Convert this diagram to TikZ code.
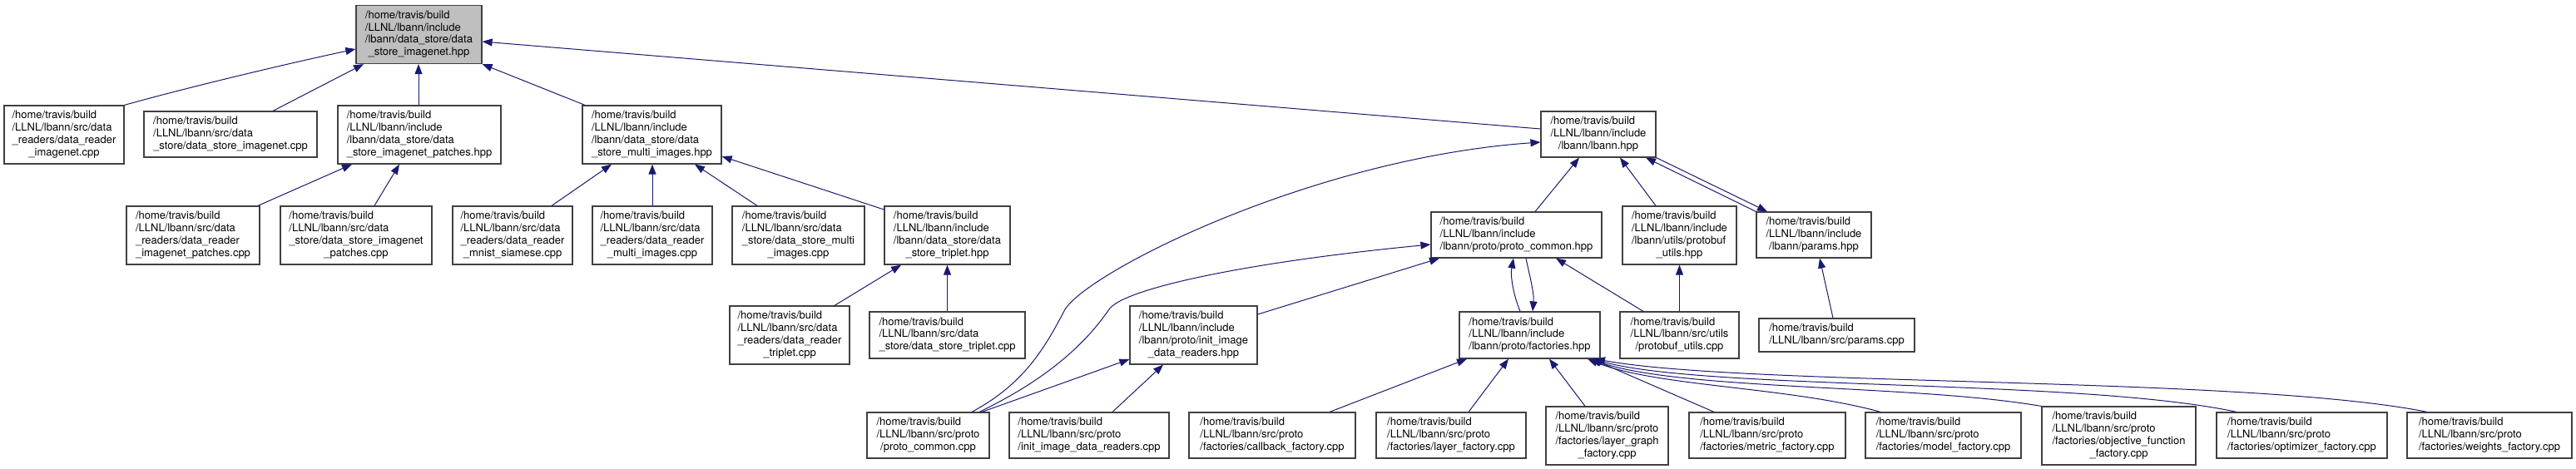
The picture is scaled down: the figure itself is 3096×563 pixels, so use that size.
\documentclass[tikz,border=0pt]{standalone}
\usepackage{fontspec}
\setmainfont{TeX Gyre Heros}
\usetikzlibrary{arrows.meta}
\definecolor{mblue}{RGB}{25,25,112}
\definecolor{bord}{RGB}{64,64,64}
\definecolor{rootfill}{RGB}{191,191,191}
\newcommand{\lbx}[2]{\begin{tabular}{@{}l@{}}#1\\\multicolumn{1}{@{}c@{}}{#2}\end{tabular}}
\newcommand{\HB}{/home/travis/build}
\newcommand{\LI}{/LLNL/lbann/include}
\newcommand{\LSD}{/LLNL/lbann/src/data}
\newcommand{\LSP}{/LLNL/lbann/src/proto}
\begin{document}
\begin{tikzpicture}[x=1pt,y=-1pt,
  nbox/.style={draw=bord, line width=1.2pt, fill=white, inner sep=0pt,
    font=\fontsize{13}{14.8}\selectfont},
  gbox/.style={nbox, fill=rootfill},
  dep/.style={draw=mblue, line width=1pt, -{Triangle[length=12pt,width=9pt]}, fill=none}]
\useasboundingbox (0,0) rectangle (3096,563);
% nodes
\node[gbox, minimum width=151pt, minimum height=70pt] (root) at (503.5,41.5) {\lbx{\HB\\\LI\\/lbann/data\_store/data}{\_store\_imagenet.hpp}};
\node[nbox, minimum width=144pt, minimum height=70pt] (n1) at (77,162) {\lbx{\HB\\\LSD\\\_readers/data\_reader}{\_imagenet.cpp}};
\node[nbox, minimum width=208pt, minimum height=55pt] (n2) at (277,161.5) {\lbx{\HB\\\LSD}{\_store/data\_store\_imagenet.cpp}};
\node[nbox, minimum width=196pt, minimum height=70pt] (n3) at (504,162) {\lbx{\HB\\\LI\\/lbann/data\_store/data}{\_store\_imagenet\_patches.hpp}};
\node[nbox, minimum width=167pt, minimum height=70pt] (n4) at (783.5,162) {\lbx{\HB\\\LI\\/lbann/data\_store/data}{\_store\_multi\_images.hpp}};
\node[nbox, minimum width=160pt, minimum height=70pt] (n5) at (232,283) {\lbx{\HB\\\LSD\\\_readers/data\_reader}{\_imagenet\_patches.cpp}};
\node[nbox, minimum width=182pt, minimum height=70pt] (n6) at (428,283) {\lbx{\HB\\\LSD\\\_store/data\_store\_imagenet}{\_patches.cpp}};
\node[nbox, minimum width=144pt, minimum height=70pt] (n7) at (616,283) {\lbx{\HB\\\LSD\\\_readers/data\_reader}{\_mnist\_siamese.cpp}};
\node[nbox, minimum width=144pt, minimum height=70pt] (n8) at (784,283) {\lbx{\HB\\\LSD\\\_readers/data\_reader}{\_multi\_images.cpp}};
\node[nbox, minimum width=159pt, minimum height=70pt] (n9) at (959.5,283) {\lbx{\HB\\\LSD\\\_store/data\_store\_multi}{\_images.cpp}};
\node[nbox, minimum width=151pt, minimum height=70pt] (n10) at (1138.5,283) {\lbx{\HB\\\LI\\/lbann/data\_store/data}{\_store\_triplet.hpp}};
\node[nbox, minimum width=144pt, minimum height=70pt] (n11) at (949,403) {\lbx{\HB\\\LSD\\\_readers/data\_reader}{\_triplet.cpp}};
\node[nbox, minimum width=187pt, minimum height=56pt] (n12) at (1138.5,403) {\lbx{\HB\\\LSD}{\_store/data\_store\_triplet.cpp}};
\node[nbox, minimum width=153pt, minimum height=70pt] (n13) at (1434.5,403) {\lbx{\HB\\\LI\\/lbann/proto/init\_image}{\_data\_readers.hpp}};
\node[nbox, minimum width=147pt, minimum height=55pt] (n14) at (1115.5,523.5) {\lbx{\HB\\\LSP}{/proto\_common.cpp}};
\node[nbox, minimum width=192pt, minimum height=55pt] (n15) at (1309,523.5) {\lbx{\HB\\\LSP}{/init\_image\_data\_readers.cpp}};
\node[nbox, minimum width=200pt, minimum height=55pt] (cb) at (1529,523.5) {\lbx{\HB\\\LSP}{/factories/callback\_factory.cpp}};
\node[nbox, minimum width=138pt, minimum height=55pt] (lbann) at (1921,161.5) {\lbx{\HB\\\LI}{/lbann/lbann.hpp}};
\node[nbox, minimum width=205pt, minimum height=55pt] (pch) at (1822.5,282.5) {\lbx{\HB\\\LI}{/lbann/proto/proto\_common.hpp}};
\node[nbox, minimum width=137pt, minimum height=70pt] (puh) at (2018.5,283) {\lbx{\HB\\\LI\\/lbann/utils/protobuf}{\_utils.hpp}};
\node[nbox, minimum width=138pt, minimum height=55pt] (params) at (2180,282.5) {\lbx{\HB\\\LI}{/lbann/params.hpp}};
\node[nbox, minimum width=169pt, minimum height=56pt] (fac) at (1838.5,403) {\lbx{\HB\\\LI}{/lbann/proto/factories.hpp}};
\node[nbox, minimum width=143pt, minimum height=56pt] (puc) at (2018.5,403) {\lbx{\HB\\/LLNL/lbann/src/utils}{/protobuf\_utils.cpp}};
\node[nbox, minimum width=187pt, minimum height=40pt] (pcpp) at (2207.5,403) {\lbx{\HB}{/LLNL/lbann/src/params.cpp}};
\node[nbox, minimum width=180pt, minimum height=55pt] (layer) at (1744,523.5) {\lbx{\HB\\\LSP}{/factories/layer\_factory.cpp}};
\node[nbox, minimum width=147pt, minimum height=70pt] (lgraph) at (1931.5,524) {\lbx{\HB\\\LSP\\/factories/layer\_graph}{\_factory.cpp}};
\node[nbox, minimum width=188pt, minimum height=55pt] (metric) at (2124,523.5) {\lbx{\HB\\\LSP}{/factories/metric\_factory.cpp}};
\node[nbox, minimum width=187pt, minimum height=55pt] (model) at (2335.5,523.5) {\lbx{\HB\\\LSP}{/factories/model\_factory.cpp}};
\node[nbox, minimum width=185pt, minimum height=70pt] (obj) at (2546.5,524) {\lbx{\HB\\\LSP\\/factories/objective\_function}{\_factory.cpp}};
\node[nbox, minimum width=205pt, minimum height=55pt] (opt) at (2766.5,523.5) {\lbx{\HB\\\LSP}{/factories/optimizer\_factory.cpp}};
\node[nbox, minimum width=198pt, minimum height=55pt] (wts) at (2992,523.5) {\lbx{\HB\\\LSP}{/factories/weights\_factory.cpp}};
% edges
\draw[dep] (n1.north east) .. controls (200,112) and (320,82) .. (root.west |- 0,59);
\draw[dep] (n2.north -| 328,0) -- (root.south -| 437,0);
\draw[dep] (n3.north -| 503,0) -- (root.south -| 503,0);
\draw[dep] (n4.north -| 703,0) -- (root.south east);
\draw[dep] (lbann.west |- 0,155) -- (root.east |- 0,50);
\draw[dep] (n5.north -| 310,0) -- (n3.south -| 423,0);
\draw[dep] (n6.north -| 450,0) -- (n3.south -| 480,0);
\draw[dep] (n7.north -| 663,0) -- (n4.south -| 735,0);
\draw[dep] (n8.north) -- (n4.south -| 784,0);
\draw[dep] (n9.north -| 910,0) -- (n4.south -| 835,0);
\draw[dep] (n10.west |- 0,252) -- (n4.east |- 0,188);
\draw[dep] (n11.north -| 1003,0) -- (n10.south -| 1083,0);
\draw[dep] (n12.north) -- (n10.south);
\draw[dep] (n14.north -| 1168,0) .. controls (1230,462) and (1255,420) .. (1280,372) .. controls (1310,325) and (1580,190) .. (lbann.west |- 0,171);
\draw[dep] (n14.north -| 1177,0) .. controls (1250,460) and (1300,420) .. (1333,372) .. controls (1350,347) and (1500,315) .. (pch.west |- 0,294);
\draw[dep] (n14.north -| 1180,0) -- (n13.west |- 0,432);
\draw[dep] (n15.north -| 1337,0) -- (n13.south -| 1398,0);
\draw[dep] (n13.east |- 0,378) -- (pch.south -| 1730,0);
\draw[dep] (pch.north -| 1845,0) -- (lbann.south -| 1898,0);
\draw[dep] (puh.north -| 1990,0) -- (lbann.south -| 1947,0);
\draw[dep] (params.north west) -- (lbann.south -| 1978,0);
\draw[dep] (lbann.south east) -- (params.north -| 2124,0);
\draw[dep] (fac.north -| 1827,0) .. controls (1819,355) and (1815,332) .. (pch.south -| 1819,0);
\draw[dep] (pch.south -| 1834,0) .. controls (1838,330) and (1844,352) .. (fac.north -| 1842,0);
\draw[dep] (puc.north -| 1975,0) -- (pch.south -| 1870,0);
\draw[dep] (puc.north) -- (puh.south);
\draw[dep] (pcpp.north -| 2203,0) -- (params.south -| 2187,0);
\draw[dep] (cb.north -| 1598,0) -- (fac.south -| 1763,0);
\draw[dep] (layer.north -| 1765,0) -- (fac.south -| 1813,0);
\draw[dep] (lgraph.north -| 1905,0) -- (fac.south -| 1862,0);
\draw[dep] (metric.north -| 2060,0) -- (fac.south -| 1913,0);
\draw[dep] (model.north -| 2260,0) .. controls (2150,465) and (1990,465) .. (fac.south -| 1908,0);
\draw[dep] (obj.north -| 2453,0) .. controls (2300,462) and (2020,470) .. (fac.south -| 1911,0);
\draw[dep] (opt.north -| 2688,0) .. controls (2500,455) and (2050,470) .. (fac.south -| 1914,0);
\draw[dep] (wts.north -| 2917,0) .. controls (2700,452) and (2100,465) .. (fac.south -| 1917,0);
\end{tikzpicture}
\end{document}
